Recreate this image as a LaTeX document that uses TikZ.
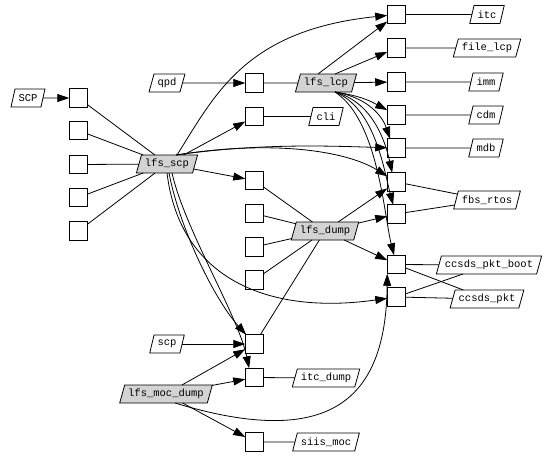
\documentclass[tikz,border=0pt]{standalone}
\usepackage{fontspec}
\setmonofont{Liberation Mono}
\usepackage{tikz}
\usetikzlibrary{arrows.meta, shapes.geometric}
\definecolor{hubgray}{HTML}{D3D3D3}

\begin{document}
\begin{tikzpicture}[
        x=1pt, y=-1pt,
        font=\ttfamily\fontsize{10.5}{11}\selectfont,
        every node/.style={outer sep=0pt},
        % puertos: cajas vacias
        port/.style={rectangle, draw, line width=0.8pt, fill=white,
                     minimum size=18.5pt, inner sep=0pt},
        proc/.style={trapezium, trapezium left angle=70, trapezium right angle=110,
                     trapezium stretches body, draw, line width=0.8pt, fill=white,
                     minimum height=18pt, inner xsep=3.5pt, inner ysep=2pt},
        hub/.style={proc, fill=hubgray},
        link/.style={draw, line width=0.8pt},
        flow/.style={link, -{Triangle[length=12pt, width=8pt]}}
    ]
    \useasboundingbox (0,0) rectangle (549,456);

    % columna izquierda
    \node[proc] (scpIn) at (28,98) {SCP};
    \node[port] (l1) at (78.5,98) {};
    \node[port] (l2) at (78.5,130.5) {};
    \node[port] (l3) at (78.5,164.5) {};
    \node[port] (l4) at (78.5,197.5) {};
    \node[port] (l5) at (78.5,231) {};
    \node[hub] (lfsScp) at (167,164) {lfs\_scp};
    \node[proc] (qpd) at (167,83) {qpd};
    \node[proc] (scp) at (167,344) {scp};
    \node[hub] (lfsMoc) at (166,394) {lfs\_moc\_dump};

    % columna central
    \node[port] (m1) at (254.5,83) {};
    \node[port] (m2) at (254.5,116.5) {};
    \node[port] (m3) at (254.5,180.5) {};
    \node[port] (m4) at (254.5,213.5) {};
    \node[port] (m5) at (254.5,247) {};
    \node[port] (m6) at (254.5,280) {};
    \node[port] (m7) at (254.5,344) {};
    \node[port] (m8) at (254.5,377.5) {};
    \node[port] (m9) at (254.5,442) {};
    \node[hub] (lfsLcp) at (326,83) {lfs\_lcp};
    \node[proc] (cli) at (326,116.5) {cli};
    \node[hub] (lfsDump) at (325,231) {lfs\_dump};
    \node[proc] (itcDump) at (326,378) {itc\_dump};
    \node[proc] (siisMoc) at (326,442) {siis\_moc};

    % columna derecha
    \node[port] (r1) at (396.5,14.5) {};
    \node[port] (r2) at (396.5,48) {};
    \node[port] (r3) at (396.5,82) {};
    \node[port] (r4) at (396.5,115) {};
    \node[port] (r5) at (396.5,148) {};
    \node[port] (r6) at (396.5,182) {};
    \node[port] (r7) at (396.5,214) {};
    \node[port] (r8) at (396.5,264.5) {};
    \node[port] (r9) at (396.5,297) {};
    \node[proc] (itc) at (487,14.5) {itc};
    \node[proc] (fileLcp) at (487,48) {file\_lcp};
    \node[proc] (imm) at (486,82) {imm};
    \node[proc] (cdm) at (486,115) {cdm};
    \node[proc] (mdb) at (486,148) {mdb};
    \node[proc] (fbsRtos) at (487,200) {fbs\_rtos};
    \node[proc] (pktBoot) at (489,265) {ccsds\_pkt\_boot};
    \node[proc] (pkt) at (487,299) {ccsds\_pkt};

    % lfs_scp
    \draw[flow] (scpIn) -- (l1);
    \draw[link] (l1) -- (lfsScp);
    \draw[link] (l2) -- (lfsScp);
    \draw[link] (l3) -- (lfsScp);
    \draw[link] (l4) -- (lfsScp);
    \draw[link] (l5) -- (lfsScp);
    \draw[flow] (lfsScp) -- (m2);
    \draw[flow] (lfsScp) -- (m3);
    \draw[flow] ([xshift=10pt]lfsScp.north) .. controls (215,95) and (245,30) .. (r1);
    \draw[flow] (lfsScp.north east) .. controls (260,143) and (330,146) .. (r5);
    \draw[flow] (lfsScp.north east) .. controls (270,140) and (345,150) .. (r6);
    \draw[flow] ([xshift=2pt]lfsScp.south) .. controls (180,230) and (215,300) .. (m7);
    \draw[flow] ([xshift=5pt]lfsScp.south) .. controls (185,230) and (238,315) .. (m8.120);
    \draw[flow] (lfsScp.south) .. controls (180,280) and (270,315) .. (r9);

    % lfs_lcp
    \draw[flow] (qpd) -- (m1);
    \draw[link] (m1) -- (lfsLcp);
    \draw[link] (m2) -- (cli);
    \draw[flow] ([xshift=-8pt]lfsLcp.north) -- (r1);
    \draw[flow] (lfsLcp.north east) -- (r2);
    \draw[flow] (lfsLcp) -- (r3);
    \draw[flow] (lfsLcp.south east) .. controls (362,96) and (372,102) .. (r4);
    \draw[flow] (lfsLcp.south east) .. controls (370,98) and (383,118) .. (r5.125);
    \draw[flow] (lfsLcp.south east) .. controls (372,102) and (385,140) .. (r6.115);
    \draw[flow] (lfsLcp.south east) .. controls (375,108) and (384,170) .. (r7.110);
    \draw[flow] (lfsLcp.south east) .. controls (378,120) and (384,215) .. (r8.105);

    % lfs_dump
    \draw[link] (m3) -- (lfsDump);
    \draw[link] (m4) -- (lfsDump);
    \draw[link] (m5) -- (lfsDump);
    \draw[link] (m6) -- (lfsDump);
    \draw[link] (lfsDump) -- (m7);
    \draw[flow] (lfsDump) -- (r6);
    \draw[flow] (lfsDump) -- (r7);
    \draw[flow] (lfsDump) -- (r8);

    % lfs_moc_dump
    \draw[flow] (scp) -- (m7);
    \draw[flow] (lfsMoc) -- (m7);
    \draw[flow] (lfsMoc) -- (m8);
    \draw[flow] (lfsMoc) -- (m9);
    \draw[flow] (lfsMoc.south east) .. controls (330,450) and (386,400) .. (r8.south west);
    \draw[link] (m8) -- (itcDump);
    \draw[link] (m9) -- (siisMoc);

    % salidas
    \draw[link] (r1) -- (itc);
    \draw[link] (r2) -- (fileLcp);
    \draw[link] (r3) -- (imm);
    \draw[link] (r4) -- (cdm);
    \draw[link] (r5) -- (mdb);
    \draw[link] (r6) -- (fbsRtos);
    \draw[link] (r7) -- (fbsRtos);
    \draw[link] (r8) -- (pktBoot);
    \draw[link] (r8) -- (pkt);
    \draw[link] (r9) -- (pktBoot);
    \draw[link] (r9) -- (pkt);
\end{tikzpicture}
\end{document}
